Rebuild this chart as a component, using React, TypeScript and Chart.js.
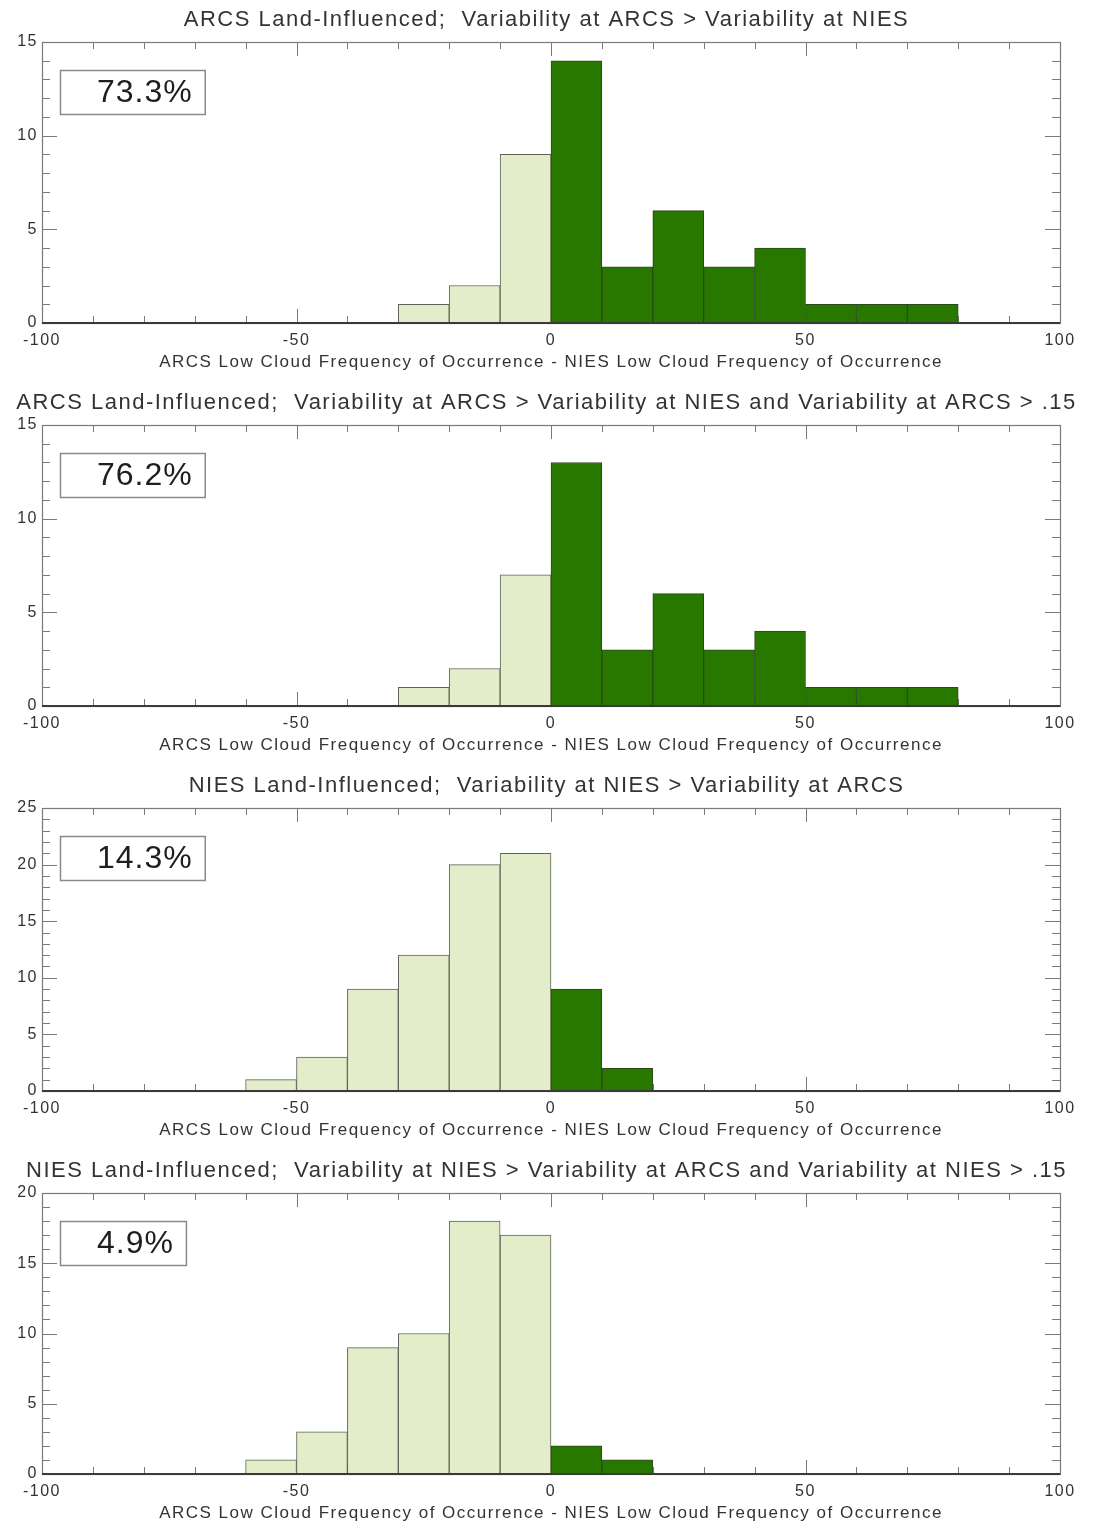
import React, { useEffect, useRef } from 'react';
import { Chart, registerables } from 'chart.js';

Chart.register(...registerables);

// ---------- data ----------
const panelTitles = [
  'ARCS Land-Influenced;  Variability at ARCS > Variability at NIES',
  'ARCS Land-Influenced;  Variability at ARCS > Variability at NIES and Variability at ARCS > .15',
  'NIES Land-Influenced;  Variability at NIES > Variability at ARCS',
  'NIES Land-Influenced;  Variability at NIES > Variability at ARCS and Variability at NIES > .15',
];
const xAxisLabel = 'ARCS Low Cloud Frequency of Occurrence - NIES Low Cloud Frequency of Occurrence';
const xTickValues = [-100, -50, 0, 50, 100];
const binWidth = 10;

// lower bin edges and counts
const p1Bins = [-30, -20, -10, 0, 10, 20, 30, 40, 50, 60, 70];
const p1Counts = [1, 2, 9, 14, 3, 6, 3, 4, 1, 1, 1];
const p2Bins = [-30, -20, -10, 0, 10, 20, 30, 40, 50, 60, 70];
const p2Counts = [1, 2, 7, 13, 3, 6, 3, 4, 1, 1, 1];
const p3Bins = [-60, -50, -40, -30, -20, -10, 0, 10];
const p3Counts = [1, 3, 9, 12, 20, 21, 9, 2];
const p4Bins = [-60, -50, -40, -30, -20, -10, 0, 10];
const p4Counts = [1, 3, 9, 10, 18, 17, 2, 1];

const yMaxes = [15, 15, 25, 20];
const percentLabels = ['73.3%', '76.2%', '14.3%', '4.9%'];

// ---------- style ----------
const FONT = '"Liberation Sans", Arial, Helvetica, sans-serif';
const TEXT = '#333333';
const LIGHT = '#e4edc9';
const LIGHT_EDGE = '#5e6356';
const DARK = '#287800';
const DARK_EDGE = '#2a4a1c';
const FRAME = '#7a7a7a';

const panelTops = [0, 383, 766, 1151];
const panelHeights = [383, 383, 385, 383];

function makeFramePlugin(pct: string) {
  return {
    id: 'frame',
    beforeDraw(chart: any) {
      chart.ctx.letterSpacing = '1.5px';
    },
    beforeDatasetsDraw(chart: any) {
      const { ctx, chartArea, scales } = chart;
      const { left, right, top, bottom } = chartArea;
      const x = scales.x;
      const y = scales.y;
      ctx.save();
      ctx.strokeStyle = FRAME;
      ctx.lineWidth = 1.2;
      ctx.strokeRect(left + 0.5, top + 0.5, right - left, bottom - top);
      ctx.lineWidth = 1;
      ctx.beginPath();
      const yMax = y.max;
      for (let v = 0; v <= yMax; v++) {
        const py = Math.round(y.getPixelForValue(v)) + 0.5;
        const len = v % 5 === 0 ? 15 : 8;
        ctx.moveTo(left, py);
        ctx.lineTo(left + len, py);
        ctx.moveTo(right, py);
        ctx.lineTo(right - len, py);
      }
      for (let v = -100; v <= 100; v += 10) {
        const px = Math.round(x.getPixelForValue(v)) + 0.5;
        const len = v % 50 === 0 ? 14 : 7;
        ctx.moveTo(px, bottom);
        ctx.lineTo(px, bottom - len);
        ctx.moveTo(px, top);
        ctx.lineTo(px, top + len);
      }
      ctx.stroke();
      ctx.restore();
    },
    afterDatasetsDraw(chart: any) {
      const { ctx, chartArea, scales } = chart;
      const { left, right, top } = chartArea;
      const y0 = scales.y.getPixelForValue(0);
      ctx.save();
      ctx.strokeStyle = '#3a3a3a';
      ctx.lineWidth = 2;
      ctx.beginPath();
      ctx.moveTo(left, y0);
      ctx.lineTo(right, y0);
      ctx.stroke();

      // percentage box
      ctx.font = `32px ${FONT}`;
      ctx.letterSpacing = '1px';
      const tw = ctx.measureText(pct).width;
      const bx = left + 18;
      const by = top + 28;
      const tx = left + 55;
      const bw = tx - bx + tw + 12;
      const bh = 44;
      ctx.fillStyle = '#ffffff';
      ctx.fillRect(bx, by, bw, bh);
      ctx.strokeStyle = '#8a8a8a';
      ctx.lineWidth = 1.5;
      ctx.strokeRect(bx + 0.5, by + 0.5, bw, bh);
      ctx.fillStyle = '#1e1e1e';
      ctx.textBaseline = 'alphabetic';
      ctx.textAlign = 'left';
      ctx.fillText(pct, tx, by + 32);
      ctx.restore();
      ctx.letterSpacing = '1.5px';
    },
  };
}

type PanelProps = {
  title: string;
  bins: number[];
  counts: number[];
  yMax: number;
  pct: string;
  top: number;
  height: number;
};

function Panel({ title, bins, counts, yMax, pct, top, height }: PanelProps) {
  const ref = useRef<HTMLCanvasElement>(null);
  useEffect(() => {
    const canvas = ref.current;
    if (!canvas) return;
    const data = bins.map((b, i) => ({ x: b + binWidth / 2, y: counts[i] }));
    const chart = new Chart(canvas, {
      type: 'bar',
      data: {
        datasets: [
          {
            data: data as any,
            backgroundColor: (c: any) => (c.raw && c.raw.x < 0 ? LIGHT : DARK),
            borderColor: (c: any) => (c.raw && c.raw.x < 0 ? LIGHT_EDGE : DARK_EDGE),
            borderWidth: 1,
            barPercentage: 1,
            categoryPercentage: 1,
          } as any,
        ],
      },
      options: {
        responsive: false,
        animation: false,
        devicePixelRatio: 1,
        layout: { padding: 0, autoPadding: false },
        plugins: {
          legend: { display: false },
          tooltip: { enabled: false },
          title: {
            display: true,
            text: title,
            color: TEXT,
            font: { family: FONT, size: 22, weight: 'normal' },
            padding: { top: 7, bottom: 8.6 },
          },
        },
        scales: {
          x: {
            type: 'linear',
            min: -100,
            max: 100,
            offset: false,
            grid: { display: false, drawTicks: false },
            border: { display: false },
            afterBuildTicks: (s: any) => {
              s.ticks = xTickValues.map((v) => ({ value: v }));
            },
            afterFit: (s: any) => {
              s.height = 60;
            },
            ticks: {
              autoSkip: false,
              maxRotation: 0,
              padding: 8,
              color: TEXT,
              font: { family: FONT, size: 16 },
            },
            title: {
              display: true,
              text: xAxisLabel,
              color: TEXT,
              font: { family: FONT, size: 17 },
              padding: { top: 0, bottom: 10 },
            },
          },
          y: {
            min: 0,
            max: yMax,
            grid: { display: false, drawTicks: false },
            border: { display: false },
            afterFit: (s: any) => {
              s.width = 42;
            },
            ticks: {
              stepSize: 5,
              padding: 4,
              color: TEXT,
              font: { family: FONT, size: 16 },
            },
          },
          yRight: {
            position: 'right',
            display: true,
            grid: { display: false, drawTicks: false },
            border: { display: false },
            ticks: { display: false },
            afterFit: (s: any) => {
              s.width = 33;
            },
          },
        },
      } as any,
      plugins: [makeFramePlugin(pct)],
    });
    return () => chart.destroy();
  }, [title, bins, counts, yMax, pct]);
  return (
    <canvas
      ref={ref}
      width={1093}
      height={height}
      style={{ position: 'absolute', left: 0, top, display: 'block' }}
    />
  );
}

export default function App() {
  const bins = [p1Bins, p2Bins, p3Bins, p4Bins];
  const counts = [p1Counts, p2Counts, p3Counts, p4Counts];
  return (
    <div
      style={{
        position: 'absolute',
        left: 0,
        top: 0,
        width: 1093,
        height: 1530,
        overflow: 'hidden',
        background: '#ffffff',
      }}
    >
      {panelTitles.map((t, i) => (
        <Panel
          key={i}
          title={t}
          bins={bins[i]}
          counts={counts[i]}
          yMax={yMaxes[i]}
          pct={percentLabels[i]}
          top={panelTops[i]}
          height={panelHeights[i]}
        />
      ))}
    </div>
  );
}
